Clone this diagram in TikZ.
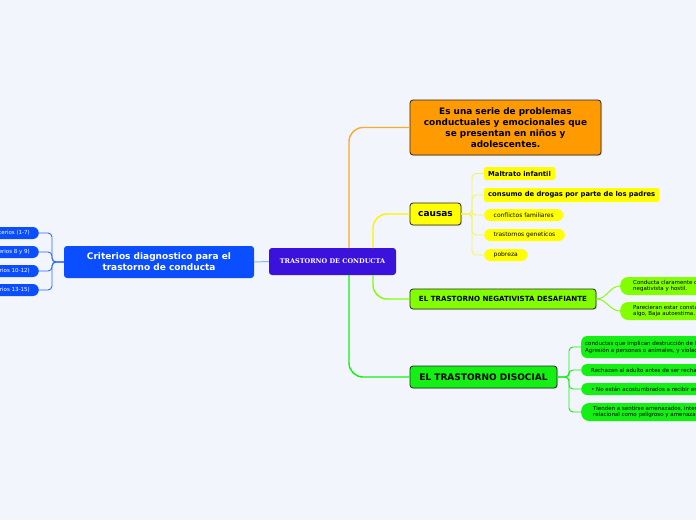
\documentclass[tikz,border=0pt]{standalone}
\usepackage{fontspec}
\setmainfont{DejaVu Sans}
\newfontfamily\titlefont{DejaVu Serif}
\usetikzlibrary{shadows}

\definecolor{bgcol}{HTML}{F3F5FD}
\definecolor{centralcol}{HTML}{3A12DC}
\definecolor{bluecol}{HTML}{0A4EFF}
\definecolor{orangecol}{HTML}{FF9A00}
\definecolor{yellowcol}{HTML}{FFFF00}
\definecolor{limecol}{HTML}{82FF00}
\definecolor{greencol}{HTML}{14F014}
\definecolor{ylinecol}{HTML}{F4F45C}

\begin{document}
\begin{tikzpicture}[x=1pt,y=-1pt,
    box/.style={rounded corners=3pt, align=center, inner sep=0pt},
    framed/.style={draw=black!85, line width=0.8pt, drop shadow={opacity=0.25, shadow xshift=1pt, shadow yshift=-1pt}},
    small/.style={font=\fontsize{5.5}{6.8}\selectfont},
    smaller/.style={font=\fontsize{6}{7}\selectfont},
    link/.style={line width=1.4pt, rounded corners=14pt},
    thinlink/.style={line width=0.9pt, rounded corners=4pt}]
    \useasboundingbox (0,0) rectangle (696,520);
    \clip (0,0) rectangle (696,520);
    \fill[bgcol] (0,0) rectangle (696,520);

    \coordinate (T1) at (349,248);
    \coordinate (T2) at (373,248);
    \coordinate (T3) at (373,275);
    \coordinate (T4) at (349,275);

    % main nodes
    \node[box, fill=centralcol, text=white, minimum width=127pt, minimum height=27pt, font=\titlefont\bfseries\fontsize{6.5}{9}\selectfont] (trastorno) at (332.5,261.5) {TRASTORNO DE CONDUCTA};
    \node[box, fill=bluecol, text=white, minimum width=190pt, minimum height=32pt, font=\bfseries\fontsize{9}{11}\selectfont] (criterios) at (159,262) {Criterios diagnostico para el\\trastorno de conducta};
    \node[box, framed, fill=orangecol, minimum width=191pt, minimum height=55pt, font=\bfseries\fontsize{8.9}{11}\selectfont] (serie) at (505.5,127.5) {Es una serie de problemas\\conductuales y emocionales que\\se presentan en niños y\\adolescentes.};
    \node[box, framed, fill=yellowcol, minimum width=51pt, minimum height=22pt, font=\bfseries\fontsize{9}{11}\selectfont] (causas) at (435.5,214) {causas};
    \node[box, framed, fill=limecol, minimum width=186pt, minimum height=20pt, font=\bfseries\fontsize{7.1}{8}\selectfont] (negativista) at (503,299) {EL TRASTORNO NEGATIVISTA DESAFIANTE};
    \node[box, framed, fill=greencol, minimum width=147pt, minimum height=22pt, font=\bfseries\fontsize{9}{10}\selectfont] (disocial) at (483.5,377) {EL TRASTORNO DISOCIAL};

    % main connectors
    \draw[link, orangecol!85] (T1) |- (serie.west);
    \draw[link, yellowcol!90!orange] (T2) |- (causas.west);
    \draw[link, limecol] (T3) |- (negativista.west);
    \draw[link, greencol] (T4) |- (disocial.west);
    \draw[line width=1pt, bluecol!45] (criterios.east) -- (trastorno.west);

    % criterios
    \node[box, fill=bluecol, text=white, small, anchor=east, minimum height=12pt, rounded corners=6pt, inner xsep=9pt] (crit1) at (39,233) {Criterios (1-7)};
    \node[box, fill=bluecol, text=white, small, anchor=east, minimum height=12pt, rounded corners=6pt, inner xsep=9pt] (crit2) at (39,252) {Criterios 8 y 9)};
    \node[box, fill=bluecol, text=white, small, anchor=east, minimum height=12pt, rounded corners=6pt, inner xsep=9pt] (crit3) at (39,271) {Criterios 10-12)};
    \node[box, fill=bluecol, text=white, small, anchor=east, minimum height=12pt, rounded corners=6pt, inner xsep=9pt] (crit4) at (39,290) {Criterios 13-15)};
    \foreach \n in {crit1,crit2,crit3,crit4}
        \draw[thinlink, bluecol!85] (criterios.west) -- (52,262) |- (\n.east);

    % causas
    \node[box, fill=yellowcol, anchor=west, minimum height=13pt, inner xsep=4pt, rounded corners=2pt, font=\bfseries\fontsize{6.8}{8}\selectfont] (maltrato) at (484,173.5) {Maltrato infantil};
    \node[box, fill=yellowcol, anchor=west, minimum height=14pt, inner xsep=4pt, rounded corners=2pt, font=\bfseries\fontsize{6.8}{8}\selectfont] (consumo) at (484,195) {consumo de drogas por parte de los padres};
    \node[box, fill=yellowcol, anchor=west, minimum height=12pt, inner xsep=9.5pt, rounded corners=6pt, smaller] (conflictos) at (484,215) {conflictos familiares};
    \node[box, fill=yellowcol, anchor=west, minimum height=12pt, inner xsep=9.5pt, rounded corners=6pt, smaller] (geneticos) at (484,235) {trastornos geneticos};
    \node[box, fill=yellowcol, anchor=west, minimum height=12pt, inner xsep=9.5pt, rounded corners=6pt, smaller] (pobreza) at (484,255) {pobreza};
    \foreach \n in {maltrato,consumo,conflictos,geneticos,pobreza}
        \draw[thinlink, ylinecol] (causas.east) -- (472,214) |- (\n.west);

    % negativista
    \node[box, fill=limecol, anchor=west, minimum height=18pt, inner xsep=13pt, rounded corners=8pt, align=left, small] (conducta) at (620,286) {Conducta claramente desafiante, desobediente,\\negativista y hostil.};
    \node[box, fill=limecol, anchor=west, minimum height=18pt, inner xsep=13pt, rounded corners=8pt, align=left, small] (enojados) at (620,311) {Parecieran estar constantemente enojados por\\algo, Baja autoestima.};
    \foreach \n in {conducta,enojados}
        \draw[line width=0.9pt, limecol] (negativista.east) to[out=0,in=180] (\n.west);

    % disocial
    \node[box, fill=greencol, anchor=west, minimum height=22pt, inner xsep=4pt, rounded corners=6pt, align=left, small] (destruccion) at (581,347) {conductas que implican destrucción de la propiedad,\\Agresión a personas o animales, y violaciones graves de normas};
    \node[box, fill=greencol, anchor=west, minimum height=12pt, inner xsep=10pt, rounded corners=6pt, small] (rechazan) at (581,370) {Rechazan al adulto antes de ser rechazados};
    \node[box, fill=greencol, anchor=west, minimum height=12pt, inner xsep=10pt, rounded corners=6pt, small] (acostumbrados) at (581,389) {• No están acostumbrados a recibir en};
    \node[box, fill=greencol, anchor=west, minimum height=18pt, inner xsep=12pt, rounded corners=8pt, align=left, small] (amenazados) at (581,412) {Tienden a sentirse amenazados, interpretan\\relacional como peligroso y amenazante};
    \foreach \n in {destruccion,rechazan,acostumbrados,amenazados}
        \draw[thinlink, greencol] (disocial.east) -- (569,377) |- (\n.west);

\end{tikzpicture}
\end{document}
